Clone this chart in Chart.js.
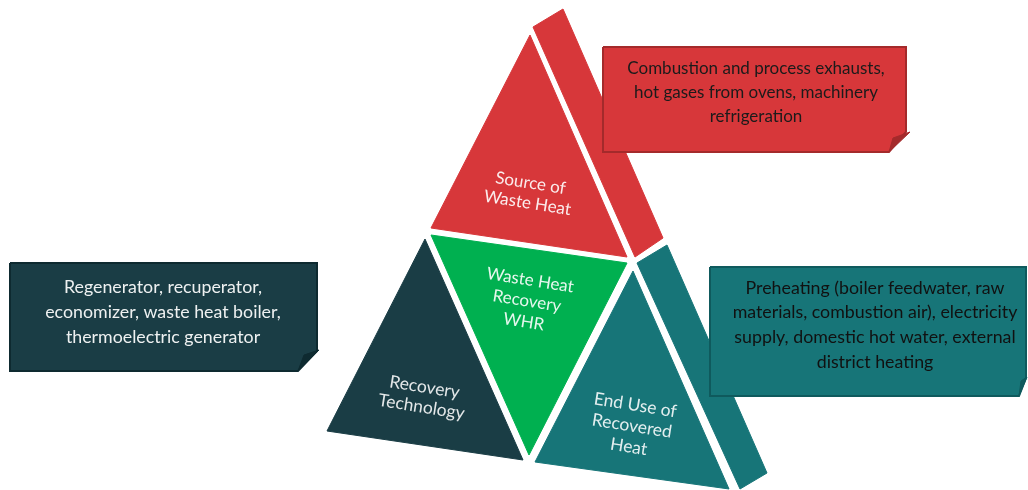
<!DOCTYPE html>
<html>
<head>
<meta charset="utf-8">
<script src="https://cdn.jsdelivr.net/npm/chart.js@4"></script>
<style>
  html, body { margin: 0; padding: 0; background: #ffffff; }
  #whr { display: block; }
</style>
</head>
<body>
<canvas id="whr" width="1028" height="490"></canvas>
<script>
// --- PYRAMID FACES (x, y in page units, y grows downward) ---
const sourceFace   = [[530, 35], [627, 257], [431, 228]];
const sourceSide   = [[533, 27], [563, 9], [663, 238], [635, 257]];
const whrFace      = [[431, 235], [627, 263], [529, 455]];
const techFace     = [[425, 239], [523, 460], [327, 431]];
const endUseFace   = [[633, 271], [729, 489], [535, 462]];
const endUseSide   = [[637, 263], [667, 245], [767, 473], [740, 489]];

// --- CALLOUT BOXES ---
const sourceBox    = [[603, 47], [906, 47], [906, 132], [889, 152], [603, 152]];
const sourceFlap   = [[889, 152], [893, 138], [910, 132]];
const techBox      = [[10, 263], [317, 263], [317, 351], [298, 371], [10, 371]];
const techFlap     = [[298, 371], [304, 355], [319, 350]];
const endUseBox    = [[710, 267], [1026, 267], [1026, 378], [1019, 396], [710, 396]];
const endUseFlap   = [[1019, 396], [1021, 381], [1027, 377]];

// --- TEXT ---
const sourceLabel  = ['Source of', 'Waste Heat'];
const whrLabel     = ['Waste Heat', 'Recovery', 'WHR'];
const techLabel    = ['Recovery', 'Technology'];
const endUseLabel  = ['End Use of', 'Recovered', 'Heat'];
const sourceNote   = ['Combustion and process exhausts,', 'hot gases from ovens, machinery', 'refrigeration'];
const techNote     = ['Regenerator, recuperator,', 'economizer, waste heat boiler,', 'thermoelectric generator'];
const endUseNote   = ['Preheating (boiler feedwater, raw', 'materials, combustion air), electricity', 'supply, domestic hot water, external', 'district heating'];

const RED = '#d7373a', RED_DARK = '#a42a2b';
const GREEN = '#00b050';
const NAVY = '#1a3d45', NAVY_DARK = '#0e2a30';
const TEAL = '#177578', TEAL_DARK = '#0f5a5d';

// closed polygon as a filled line dataset
function poly(pts, fill, stroke, width, order) {
    const data = pts.map(p => ({x: p[0], y: p[1]}));
    data.push({x: pts[0][0], y: pts[0][1]});
    return {
        data: data,
        backgroundColor: fill,
        borderColor: stroke || fill,
        borderWidth: width || 1,
        fill: 'shape',
        pointRadius: 0,
        tension: 0,
        order: order
    };
}

// text blocks: lines, centre, rotation (deg), colour
const textBlocks = [
    {lines: sourceLabel, x: 529, y: 193, angle: 9, color: 'rgba(255,255,255,0.9)', size: 17, lh: 20},
    {lines: whrLabel,    x: 527, y: 301, angle: 9, color: 'rgba(255,255,255,0.9)', size: 17, lh: 21},
    {lines: techLabel,   x: 423, y: 397, angle: 9, color: 'rgba(255,255,255,0.88)', size: 17.5, lh: 20},
    {lines: endUseLabel, x: 632, y: 426, angle: 9, color: 'rgba(255,255,255,0.88)', size: 17.5, lh: 21},
    {lines: sourceNote,  x: 756, y: 93,  angle: 0, color: '#1b1b1b', size: 17, lh: 24},
    {lines: techNote,    x: 163, y: 312, angle: 0, color: '#eef1f1', size: 17.8, lh: 25},
    {lines: endUseNote,  x: 875, y: 325, angle: 0, color: '#111111', size: 17.8, lh: 24.7}
];

const labelPlugin = {
    id: 'labels',
    afterDatasetsDraw(chart) {
        const ctx = chart.ctx;
        const xs = chart.scales.x, ys = chart.scales.y;
        textBlocks.forEach(b => {
            ctx.save();
            ctx.translate(xs.getPixelForValue(b.x), ys.getPixelForValue(b.y));
            ctx.rotate(b.angle * Math.PI / 180);
            ctx.font = b.size + 'px Lato, "Open Sans", sans-serif';
            ctx.fillStyle = b.color;
            ctx.textAlign = 'center';
            ctx.textBaseline = 'middle';
            const top = -(b.lines.length - 1) * b.lh / 2;
            b.lines.forEach((t, i) => ctx.fillText(t, 0, top + i * b.lh));
            ctx.restore();
        });
    }
};

const chart = new Chart(document.getElementById('whr'), {
    type: 'line',
    data: {
        datasets: [
            // boxes sit on top of the pyramid sides
            poly(sourceFlap, RED_DARK, RED_DARK, 1, 0),
            poly(techFlap, NAVY_DARK, NAVY_DARK, 1, 0),
            poly(endUseFlap, TEAL_DARK, TEAL_DARK, 1, 0),
            poly(sourceBox, RED, RED_DARK, 2, 1),
            poly(techBox, NAVY, NAVY_DARK, 2, 1),
            poly(endUseBox, TEAL, TEAL_DARK, 2, 1),
            poly(sourceFace, RED, null, 1, 2),
            poly(sourceSide, RED, null, 1, 2),
            poly(whrFace, GREEN, null, 1, 2),
            poly(techFace, NAVY, null, 1, 2),
            poly(endUseFace, TEAL, null, 1, 2),
            poly(endUseSide, TEAL, null, 1, 2)
        ]
    },
    options: {
        responsive: false,
        devicePixelRatio: 1,
        animation: false,
        layout: { padding: 0 },
        scales: {
            x: { type: 'linear', min: 0, max: 1028, display: false },
            y: { type: 'linear', min: 0, max: 490, reverse: true, display: false }
        },
        plugins: {
            legend: { display: false },
            tooltip: { enabled: false }
        }
    },
    plugins: [labelPlugin]
});
</script>
</body>
</html>
